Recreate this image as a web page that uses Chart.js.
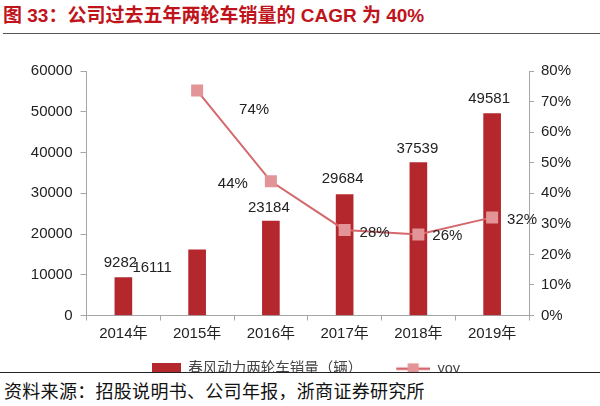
<!DOCTYPE html>
<html>
<head>
<meta charset="utf-8">
<script src="https://cdn.jsdelivr.net/npm/chart.js@4"></script>
<style>
  html, body { margin: 0; padding: 0; background: #fff; }
  body { width: 600px; height: 406px; position: relative; overflow: hidden;
         font-family: "Liberation Sans", Arial, "Noto Sans CJK SC", sans-serif; }
  #title { position: absolute; left: 3px; top: 5px; font-size: 19px; line-height: 21px;
           font-weight: bold; color: #c0141c; white-space: nowrap; }
  #titleRule { position: absolute; left: 3px; right: 0; top: 33px; border-top: 1.5px solid #555; }
  #wrap { position: absolute; left: 0; top: 40px; width: 600px; height: 346px; }
  #foot { position: absolute; left: 0; top: 372px; width: 600px; height: 34px; background: #fff;
          border-top: 1.5px solid #222; }
  #source { position: absolute; left: 4px; top: 6px; font-size: 18px; line-height: 22px;
            font-family: "Noto Sans CJK SC", sans-serif; color: #111; white-space: nowrap; letter-spacing: 0.3px; }
</style>
</head>
<body>
<div id="title">图 33：公司过去五年两轮车销量的 CAGR 为 40%</div>
<div id="titleRule"></div>
<div id="wrap"><canvas id="chart" width="600" height="346"></canvas></div>
<div id="foot"><div id="source">资料来源：招股说明书、公司年报，浙商证券研究所</div></div>
<script>
const years = ["2014年", "2015年", "2016年", "2017年", "2018年", "2019年"];
const sales = [9282, 16111, 23184, 29684, 37539, 49581];   // 两轮车销量（辆）
const yoy = [null, 73.6, 43.9, 28.0, 26.5, 32.1];          // %
const yoyText = [null, "74%", "44%", "28%", "26%", "32%"];

// where each value label sits relative to its mark (px)
const salesLabelShift = [[-3, -15], [-45, 18], [-2, -13], [-2, -16], [-1, -14], [-3, -15]];
const yoyLabelShift = [null, [57, 19], [-38, 3], [30, 3], [29, 1], [30, 2]];

const BAR = "#b3272d";
const LINE = "#d4686c";
const MARK = "#e39496";
const AXIS = "#a6a6a6";
const TXT = "#222";

Chart.defaults.font.family = '"Liberation Sans", Arial, "Noto Sans CJK SC", sans-serif';
Chart.defaults.color = TXT;

// legend swatches (same box width, drawn flush right)
function swatch(draw) {
  const c = document.createElement("canvas");
  c.width = 58; c.height = 12;
  draw(c.getContext("2d"));
  return c;
}
const barSwatch = swatch(g => { g.fillStyle = BAR; g.fillRect(29, 0, 29, 12); });
const lineSwatch = swatch(g => {
  g.strokeStyle = LINE; g.lineWidth = 2.5;
  g.beginPath(); g.moveTo(24, 6); g.lineTo(58, 6); g.stroke();
  g.fillStyle = MARK; g.fillRect(35.5, 0.5, 11, 11);
});

const valueLabels = {
  id: "valueLabels",
  afterDatasetsDraw(chart) {
    const ctx = chart.ctx;
    ctx.save();
    ctx.font = '15px "Liberation Sans", Arial, sans-serif';
    ctx.fillStyle = TXT;
    ctx.textAlign = "center";
    ctx.textBaseline = "middle";
    chart.getDatasetMeta(0).data.forEach((bar, i) => {
      const [dx, dy] = salesLabelShift[i];
      ctx.fillText(String(sales[i]), bar.x + dx, bar.y + dy);
    });
    chart.getDatasetMeta(1).data.forEach((pt, i) => {
      if (yoy[i] == null) return;
      const [dx, dy] = yoyLabelShift[i];
      ctx.fillText(yoyText[i], pt.x + dx, pt.y + dy);
    });
    ctx.restore();
  }
};

const tickFont = { size: 15 };

new Chart(document.getElementById("chart"), {
  data: {
    labels: years,
    datasets: [
      {
        type: "bar",
        label: "春风动力两轮车销量（辆）",
        data: sales,
        backgroundColor: BAR,
        barThickness: 17,
        yAxisID: "y",
        order: 2
      },
      {
        type: "line",
        label: "yoy",
        data: yoy,
        borderColor: LINE,
        borderWidth: 2,
        pointStyle: "rect",
        pointRadius: 8.5,
        pointBackgroundColor: MARK,
        pointBorderColor: MARK,
        pointBorderWidth: 0,
        yAxisID: "y1",
        order: 1
      }
    ]
  },
  options: {
    responsive: false,
    animation: false,
    layout: { padding: { top: 31, left: 0, right: 17, bottom: 0 } },
    plugins: {
      tooltip: { enabled: false },
      legend: {
        position: "bottom",
        labels: {
          usePointStyle: true,
          pointStyleWidth: 58,
          padding: 10,
          color: "#444",
          font: { size: 14.5, family: '"Liberation Sans", "Noto Sans CJK SC", sans-serif' },
          sort: (a, b) => a.datasetIndex - b.datasetIndex,
          generateLabels(chart) {
            const items = Chart.defaults.plugins.legend.labels.generateLabels(chart);
            items.forEach(it => { it.pointStyle = it.datasetIndex === 0 ? barSwatch : lineSwatch; });
            return items;
          }
        }
      }
    },
    scales: {
      x: {
        grid: { offset: true, drawOnChartArea: false, tickLength: 5, color: AXIS },
        border: { color: AXIS },
        ticks: { font: tickFont, color: TXT, padding: 4, maxRotation: 0 },
        afterFit(s) { s.height = 36; }
      },
      y: {
        position: "left",
        min: 0, max: 60000,
        ticks: { stepSize: 10000, font: tickFont, color: TXT, padding: 8, callback: v => String(v) },
        grid: { drawOnChartArea: false, tickLength: 6, color: AXIS },
        border: { color: AXIS },
        afterFit(s) { s.width = 86.5; }
      },
      y1: {
        position: "right",
        min: 0, max: 80,
        ticks: { stepSize: 10, font: tickFont, color: TXT, padding: 7, callback: v => v + "%" },
        grid: { drawOnChartArea: false, tickLength: 5, color: AXIS },
        border: { color: AXIS },
        afterFit(s) { s.width = 54; }
      }
    }
  },
  plugins: [valueLabels]
});
</script>
</body>
</html>
